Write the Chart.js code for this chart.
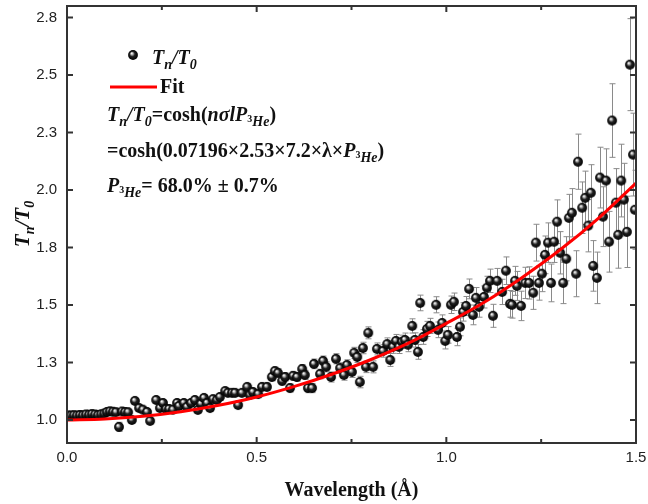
<!DOCTYPE html>
<html>
<head>
<meta charset="utf-8">
<script src="https://cdn.jsdelivr.net/npm/chart.js@4.4.0/dist/chart.umd.min.js"></script>
<style>
  html, body { margin: 0; padding: 0; background: #fff; }
</style>
</head>
<body>
<canvas id="chart" width="648" height="504"></canvas>
<script>
// measured points: wavelength (Å), Tn/T0 and its error
const lambda = [
  0.003, 0.011, 0.018, 0.026, 0.034, 0.042, 0.050, 0.058, 0.066, 0.074,
  0.082, 0.090, 0.098, 0.105, 0.113, 0.121, 0.129, 0.137, 0.145, 0.153,
  0.161, 0.171, 0.179, 0.190, 0.200, 0.211, 0.219, 0.235, 0.245, 0.253,
  0.261, 0.269, 0.279, 0.290, 0.295, 0.308, 0.316, 0.327, 0.337, 0.345,
  0.353, 0.361, 0.369, 0.377, 0.385, 0.395, 0.403, 0.417, 0.424, 0.435,
  0.443, 0.451, 0.461, 0.475, 0.482, 0.490, 0.504, 0.514, 0.527, 0.540,
  0.548, 0.556, 0.567, 0.575, 0.588, 0.596, 0.606, 0.620, 0.627, 0.635,
  0.646, 0.651, 0.667, 0.675, 0.683, 0.696, 0.709, 0.720, 0.730, 0.738,
  0.751, 0.757, 0.765, 0.772, 0.780, 0.788, 0.794, 0.807, 0.817, 0.833,
  0.844, 0.852, 0.859, 0.867, 0.875, 0.883, 0.891, 0.899, 0.910, 0.917,
  0.925, 0.931, 0.939, 0.949, 0.957, 0.973, 0.978, 0.989, 0.997, 1.004,
  1.012, 1.020, 1.028, 1.036, 1.044, 1.052, 1.060, 1.070, 1.078, 1.086,
  1.099, 1.107, 1.115, 1.123, 1.134, 1.147, 1.157, 1.168, 1.173, 1.181,
  1.186, 1.197, 1.208, 1.218, 1.229, 1.236, 1.244, 1.252, 1.260, 1.268,
  1.276, 1.284, 1.292, 1.300, 1.308, 1.316, 1.323, 1.331, 1.342, 1.347,
  1.358, 1.366, 1.374, 1.381, 1.387, 1.397, 1.405, 1.413, 1.421, 1.429,
  1.437, 1.447, 1.453, 1.461, 1.468, 1.476, 1.484, 1.492, 1.497
];
const ratio = [
  1.020, 1.020, 1.021, 1.020, 1.022, 1.021, 1.024, 1.023, 1.026, 1.024,
  1.022, 1.025, 1.028, 1.035, 1.038, 1.036, 1.034, 0.970, 1.037, 1.035,
  1.034, 1.000, 1.083, 1.052, 1.045, 1.035, 0.996, 1.087, 1.052, 1.074,
  1.048, 1.048, 1.045, 1.074, 1.061, 1.074, 1.057, 1.074, 1.087, 1.044,
  1.070, 1.096, 1.074, 1.052, 1.091, 1.087, 1.100, 1.126, 1.118, 1.118,
  1.118, 1.065, 1.118, 1.144, 1.109, 1.122, 1.113, 1.144, 1.144, 1.187,
  1.213, 1.205, 1.170, 1.187, 1.139, 1.192, 1.187, 1.222, 1.196, 1.139,
  1.139, 1.244, 1.200, 1.257, 1.231, 1.187, 1.266, 1.226, 1.196, 1.239,
  1.209, 1.292, 1.274, 1.165, 1.313, 1.231, 1.379, 1.231, 1.309, 1.300,
  1.330, 1.261, 1.318, 1.344, 1.318, 1.340, 1.348, 1.327, 1.409, 1.348,
  1.296, 1.509, 1.361, 1.396, 1.409, 1.501, 1.392, 1.422, 1.344, 1.370,
  1.501, 1.514, 1.361, 1.405, 1.470, 1.496, 1.570, 1.457, 1.531, 1.492,
  1.535, 1.575, 1.605, 1.453, 1.605, 1.557, 1.649, 1.505, 1.501, 1.605,
  1.583, 1.496, 1.596, 1.596, 1.553, 1.771, 1.596, 1.636, 1.718, 1.771,
  1.596, 1.775, 1.862, 1.727, 1.596, 1.701, 1.879, 1.901, 1.636, 2.123,
  1.923, 1.966, 1.845, 1.988, 1.670, 1.618, 2.054, 1.884, 2.041, 1.775,
  2.302, 1.945, 1.805, 2.041, 1.958, 1.818, 2.545, 2.154, 1.914
];
const ratioErr = [
  .004, .004, .004, .004, .004, .004, .004, .004, .004, .004,
  .005, .005, .005, .005, .005, .005, .005, .020, .006, .006,
  .006, .008, .010, .008, .008, .008, .010, .010, .010, .010,
  .010, .010, .010, .012, .012, .012, .012, .012, .012, .012,
  .012, .013, .013, .013, .013, .013, .014, .014, .014, .014,
  .015, .015, .015, .015, .015, .016, .016, .016, .017, .017,
  .017, .018, .018, .018, .018, .019, .019, .019, .020, .020,
  .020, .021, .021, .021, .022, .022, .022, .023, .023, .023,
  .024, .024, .024, .025, .025, .025, .026, .026, .026, .027,
  .027, .028, .028, .028, .029, .029, .030, .030, .031, .031,
  .032, .034, .032, .033, .033, .035, .034, .035, .035, .036,
  .038, .038, .038, .039, .040, .041, .043, .043, .045, .045,
  .048, .050, .051, .050, .054, .055, .060, .058, .058, .063,
  .063, .064, .068, .070, .072, .080, .075, .078, .082, .086,
  .082, .090, .095, .092, .090, .096, .102, .105, .100, .120,
  .112, .116, .114, .122, .110, .112, .132, .130, .138, .132,
  .160, .148, .145, .158, .158, .155, .200, .180, .172
];

// fit curve
const fitLambda = [0, 0.1, 0.2, 0.3, 0.4, 0.5, 0.6, 0.7, 0.8, 0.9, 1.0, 1.1, 1.2, 1.3, 1.4, 1.5];
const fitRatio = [1.000, 1.004, 1.016, 1.036, 1.064, 1.100, 1.146, 1.200, 1.262, 1.334, 1.420, 1.512, 1.620, 1.740, 1.876, 2.030];

const xTicks = [0, 0.25, 0.5, 0.75, 1.0, 1.25, 1.5];
const xTickLabels = ['0.0', '', '0.5', '', '1.0', '', '1.5'];
const yTicks = [1.0, 1.25, 1.5, 1.75, 2.0, 2.25, 2.5, 2.75];
const yTickLabels = ['1.0', '1.3', '1.5', '1.8', '2.0', '2.3', '2.5', '2.8'];

const SERIF = '"Liberation Serif", "Times New Roman", serif';

function makeBall(r) {
  const c = document.createElement('canvas');
  const s = Math.ceil(r * 2) + 2;
  c.width = s; c.height = s;
  const g = c.getContext('2d');
  const cx = s / 2, cy = s / 2;
  const grad = g.createRadialGradient(cx - 1.4, cy - 1.8, 0.2, cx, cy, r);
  grad.addColorStop(0, '#ffffff');
  grad.addColorStop(0.22, '#b0b0b0');
  grad.addColorStop(0.5, '#222');
  grad.addColorStop(1, '#000');
  g.fillStyle = grad;
  g.beginPath();
  g.arc(cx, cy, r, 0, Math.PI * 2);
  g.fill();
  return c;
}
const ball = makeBall(4.9);

// mixed-style text: b = bold, i = bold italic, sub = subscript, sup = small raised
let baseSize = 20;
function styleOf(kind) {
  if (kind === 'i') return { font: 'italic bold ' + baseSize + 'px ' + SERIF, dy: 0 };
  if (kind === 'sub') return { font: 'italic bold ' + Math.round(baseSize * 0.68) + 'px ' + SERIF, dy: 5 };
  if (kind === 'sup') return { font: 'bold ' + Math.round(baseSize * 0.48) + 'px ' + SERIF, dy: 1 };
  return { font: 'bold ' + baseSize + 'px ' + SERIF, dy: 0 };
}
function richWidth(ctx, parts) {
  let w = 0;
  for (const [t, k] of parts) { ctx.font = styleOf(k).font; w += ctx.measureText(t).width; }
  return w;
}
function rich(ctx, x, y, parts) {
  for (const [t, k] of parts) {
    const st = styleOf(k);
    ctx.font = st.font;
    ctx.fillText(t, x, y + st.dy);
    x += ctx.measureText(t).width;
  }
  return x;
}
const P3He = [['P', 'i'], ['3', 'sup'], ['He', 'sub']];
const TnT0 = [['T', 'i'], ['n', 'sub'], ['/', 'i'], ['T', 'i'], ['0', 'sub']];

const errorBars = {
  id: 'errorBars',
  beforeDatasetsDraw(chart) {
    const { ctx, chartArea } = chart;
    const xs = chart.scales.x, ys = chart.scales.y;
    ctx.save();
    ctx.beginPath();
    ctx.rect(chartArea.left, chartArea.top, chartArea.right - chartArea.left, chartArea.bottom - chartArea.top);
    ctx.clip();
    ctx.strokeStyle = '#8a8a8a';
    ctx.lineWidth = 1;
    ctx.beginPath();
    lambda.forEach((l, i) => {
      const px = Math.round(xs.getPixelForValue(l)) + 0.5;
      const y1 = ys.getPixelForValue(ratio[i] + ratioErr[i]);
      const y2 = ys.getPixelForValue(ratio[i] - ratioErr[i]);
      ctx.moveTo(px, y1); ctx.lineTo(px, y2);
      ctx.moveTo(px - 3, y1); ctx.lineTo(px + 3, y1);
      ctx.moveTo(px - 3, y2); ctx.lineTo(px + 3, y2);
    });
    ctx.stroke();
    ctx.restore();
  }
};

const frame = {
  id: 'frame',
  afterDraw(chart) {
    const { ctx, chartArea: a } = chart;
    const xs = chart.scales.x, ys = chart.scales.y;
    ctx.save();
    ctx.strokeStyle = '#333';
    ctx.lineWidth = 2;
    ctx.strokeRect(a.left, a.top, a.right - a.left, a.bottom - a.top);
    ctx.beginPath();
    xTicks.forEach((v, i) => {
      const px = xs.getPixelForValue(v);
      const len = xTickLabels[i] ? 6 : 4;
      ctx.moveTo(px, a.bottom); ctx.lineTo(px, a.bottom - len);
      ctx.moveTo(px, a.top); ctx.lineTo(px, a.top + len);
    });
    yTicks.forEach(v => {
      const py = ys.getPixelForValue(v);
      ctx.moveTo(a.left, py); ctx.lineTo(a.left + 6, py);
      ctx.moveTo(a.right, py); ctx.lineTo(a.right - 6, py);
    });
    ctx.stroke();

    // axis titles
    ctx.fillStyle = '#111';
    ctx.textBaseline = 'alphabetic';
    ctx.font = 'bold 20px ' + SERIF;
    ctx.textAlign = 'center';
    ctx.fillText('Wavelength (Å)', (a.left + a.right) / 2, 496);
    ctx.textAlign = 'left';
    baseSize = 21;
    ctx.save();
    ctx.translate(29, 224);
    ctx.rotate(-Math.PI / 2);
    rich(ctx, -richWidth(ctx, TnT0) / 2, 0, TnT0);
    ctx.restore();
    baseSize = 20;

    // legend
    ctx.drawImage(ball, 133 - ball.width / 2, 55 - ball.height / 2);
    rich(ctx, 152, 64, TnT0);
    ctx.strokeStyle = '#ff0000';
    ctx.lineWidth = 3;
    ctx.beginPath();
    ctx.moveTo(110, 87); ctx.lineTo(157, 87);
    ctx.stroke();
    rich(ctx, 160, 93, [['Fit', 'b']]);

    // fit equation
    rich(ctx, 107, 121, TnT0.concat([['=cosh(', 'b'], ['n\u03C3lP', 'i'], ['3', 'sup'], ['He', 'sub'], [')', 'b']]));
    rich(ctx, 107, 157, [['=cosh(0.07196\u00D72.53\u00D77.2\u00D7\u03BB\u00D7', 'b']].concat(P3He, [[')', 'b']]));
    rich(ctx, 107, 192, P3He.concat([['= 68.0% \u00B1 0.7%', 'b']]));
    ctx.restore();
  }
};

const tickFont = { family: '"Liberation Sans", Arial, sans-serif', size: 15 };

new Chart(document.getElementById('chart'), {
  type: 'scatter',
  data: {
    datasets: [
      {
        type: 'line',
        label: 'Fit',
        data: fitLambda.map((x, i) => ({ x: x, y: fitRatio[i] })),
        borderColor: '#ff0000',
        borderWidth: 3,
        pointRadius: 0,
        cubicInterpolationMode: 'monotone',
        order: 0
      },
      {
        label: 'Tn/T0',
        data: lambda.map((x, i) => ({ x: x, y: ratio[i] })),
        pointStyle: ball,
        pointRadius: 5,
        order: 1
      }
    ]
  },
  options: {
    responsive: false,
    animation: false,
    devicePixelRatio: 1,
    layout: { padding: { left: 0, right: 12, top: 6, bottom: 0 } },
    plugins: { legend: { display: false }, tooltip: { enabled: false } },
    scales: {
      x: {
        type: 'linear',
        min: 0,
        max: 1.5,
        afterBuildTicks: s => { s.ticks = xTicks.map(v => ({ value: v })); },
        afterFit: s => { s.height = 61; s.paddingLeft = 0; s.paddingRight = 0; },
        ticks: {
          callback: (v, i) => xTickLabels[i],
          font: tickFont,
          color: '#222',
          padding: 6,
          maxRotation: 0,
          autoSkip: false
        },
        grid: { display: false, drawTicks: false },
        border: { display: false }
      },
      y: {
        min: 0.9,
        max: 2.8,
        afterBuildTicks: s => { s.ticks = yTicks.map(v => ({ value: v })); },
        afterFit: s => { s.width = 67; s.paddingTop = 0; s.paddingBottom = 0; },
        ticks: {
          callback: (v, i) => yTickLabels[i],
          font: tickFont,
          color: '#222',
          padding: 10,
          autoSkip: false
        },
        grid: { display: false, drawTicks: false },
        border: { display: false }
      }
    }
  },
  plugins: [errorBars, frame]
});
</script>
</body>
</html>
